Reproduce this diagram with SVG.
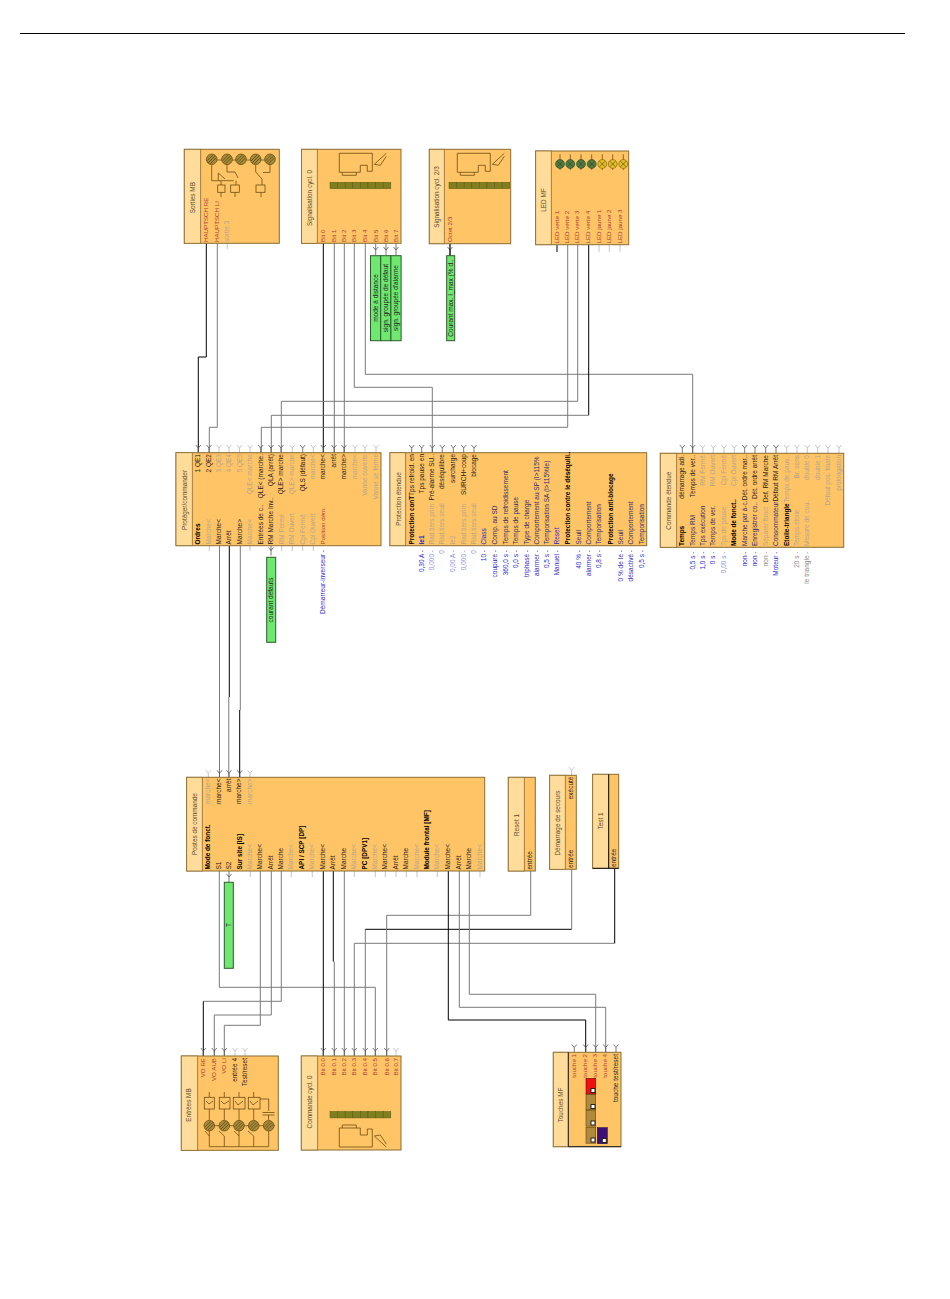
<svg xmlns="http://www.w3.org/2000/svg" width="950" height="1299" viewBox="0 0 950 1299">
<style>
text{font-family:"Liberation Sans",Arial,sans-serif;font-size:6.5px;fill:#4a3a20}
.e{text-anchor:end}.m{text-anchor:middle}
.l{fill:#b3a68e}.d{fill:#222}.h{fill:#000;font-weight:bold;font-size:6.4px}.r{fill:#a83a3a;font-size:6.2px}.b{fill:#2a2ad0}.n{fill:#2c2c68}.bl{fill:#8d8de0}.gr{fill:#888}
.ti{font-size:6.4px;fill:#5a4a2a}
.body{fill:#ffc466;stroke:#8a6c32;stroke-width:1}
.head{fill:#ffdc9a;stroke:#8a6c32;stroke-width:.8}
.note{fill:#6fe86f;stroke:#2c5a2c;stroke-width:1}
.c{fill:none;stroke-width:1}
.k{stroke:#000}.g{stroke:#7a7a7a}
.sl{stroke:#b8b8b8;fill:none;stroke-width:.8}.sd{stroke:#555;fill:none;stroke-width:.8}
.i{fill:none;stroke:#6b4f10;stroke-width:.8}
.s{fill:#a58a3c;stroke:#6b4f10;stroke-width:.8}
.sq{fill:#7f7f20;stroke:#5a5a10;stroke-width:.5}
.lg{fill:#4f7d3f;stroke:#33552a;stroke-width:.8}.ly{fill:#e8c020;stroke:#8a6c10;stroke-width:.8}
</style>
<defs>
<path id="y" d="M-2.5,-3L0,0L2.5,-3M0,0V5"/>
<g id="scr"><circle r="5.3" class="s"/><path d="M-3.5,3.5L3.5,-3.5M-1.5,4.5L4.5,-1.5M-4.5,1.5L1.5,-4.5" stroke="#5a4410" stroke-width=".7" fill="none"/></g>
<g id="row"><rect x="0" width="7.6" height="6.4" class="sq"/><rect x="7.6" width="7.6" height="6.4" class="sq"/><rect x="15.2" width="7.6" height="6.4" class="sq"/><rect x="22.8" width="7.6" height="6.4" class="sq"/><rect x="30.4" width="7.6" height="6.4" class="sq"/><rect x="38" width="7.6" height="6.4" class="sq"/><rect x="45.6" width="7.6" height="6.4" class="sq"/><rect x="53.2" width="7.6" height="6.4" class="sq"/></g>
<path id="plc" class="i" d="M0,0H33V18H28V12H21V19H0ZM3,19V22H17V19M35,11L47,0M35,11L41,12L47,3"/>
<g id="led"><circle r="4.4"/><path d="M-2.8,-2.8L2.8,2.8M-2.8,2.8L2.8,-2.8" stroke="#333" stroke-width=".6" fill="none"/></g>
<g id="tb"><rect width="9.7" height="15.7" fill="#b08a3c" stroke="#5a4410" stroke-width=".6"/><rect x="5" y="10.5" width="4" height="4" fill="#fff" stroke="#222"/></g>
</defs>
<rect width="950" height="1299" fill="#fff"/>
<path d="M20,33.5H905" stroke="#000" fill="none"/>

<g id="connectors">
<path class="c k" d="M206.3,243V357H198.3V453"/>
<path class="c g" d="M217.3,243V427.3H209.3V453"/>
<path class="c k" d="M323.3,243V453"/>
<path class="c g" d="M334.3,243V453"/>
<path class="c g" d="M344.3,243V453"/>
<path class="c g" d="M354.3,243V387.3H432.3V453"/>
<path class="c g" d="M365.3,243V374.3H692.7V453"/>
<path class="c g" d="M567.7,245V427.3H261.3V453"/>
<path class="c g" d="M577.7,245V401.3H281.3V453"/>
<path class="c k" d="M588.7,245V415.3"/><path class="c g" d="M588.7,415.3H271.3V453"/>
<path class="c k" d="M557,245V252"/>
<path class="c g" d="M219.5,546V777.3"/>
<path class="c k" d="M229.3,546V697"/><path class="c g" d="M228.8,697V777.3"/>
<path class="c g" d="M240.3,546V710"/><path class="c k" d="M239.7,710V777.3"/>
<path class="c g" d="M219.3,871V987.3H375.3V1056"/>
<path class="c g" d="M260.3,871V1025.3H224.3V1056"/>
<path class="c g" d="M271.3,871V1015H214.3V1056"/>
<path class="c g" d="M281.3,871V1001.3H203.3"/><path class="c k" d="M203.3,1001.3V1056"/>
<path class="c k" d="M323.3,871V1056"/>
<path class="c k" d="M333.3,871V961.7"/><path class="c g" d="M334.3,961.7V1056"/>
<path class="c g" d="M344.3,871V1056"/>
<path class="c g" d="M354.3,1056V943.3H614.7"/><path class="c k" d="M614.7,943.3V868"/>
<path class="c g" d="M365.3,1056V929.3"/><path class="c k" d="M365.3,929.3H571.7"/><path class="c g" d="M571.7,929.3V869"/>
<path class="c g" d="M386.7,1056V915.3H530.7V871"/>
<path class="c k" d="M448.3,871V1020H585.7V1052"/>
<path class="c g" d="M459.3,871V1007.3H605.7V1052"/>
<path class="c g" d="M469.3,871V994.3H595.7V1052"/>
<path class="sl" d="M227.3,243V249M599,245V252M609.3,245V252M620,245V252M209.3,546V551M250,546V551M281.7,546V551M292.3,546V551M302.7,546V551M313.3,546V551M250.3,871V877M291.3,871V877M312.3,871V877M354.3,871V877M375.3,871V877M385.3,871V877M396,871V877M406.3,871V877M417,871V877M437.3,871V877M480,871V877"/>
</g>
<g id="ports">
<g class="sd"><use href="#y" x="198.3" y="448"/><use href="#y" x="209" y="448"/><use href="#y" x="260.7" y="448"/><use href="#y" x="271" y="448"/><use href="#y" x="281" y="448"/><use href="#y" x="323.3" y="448"/><use href="#y" x="334" y="448"/><use href="#y" x="344" y="448"/><use href="#y" x="302.7" y="448"/><use href="#y" x="411.7" y="448"/><use href="#y" x="421.7" y="448"/><use href="#y" x="432.3" y="448"/><use href="#y" x="442.3" y="448"/><use href="#y" x="453.3" y="448"/><use href="#y" x="463.7" y="448"/><use href="#y" x="474" y="448"/><use href="#y" x="682.3" y="448"/><use href="#y" x="692.7" y="448"/><use href="#y" x="744.7" y="448"/><use href="#y" x="755" y="448"/><use href="#y" x="765.7" y="448"/><use href="#y" x="776" y="448"/><use href="#y" x="219.5" y="773.3"/><use href="#y" x="229" y="773.3"/><use href="#y" x="239.7" y="773.3"/><use href="#y" x="203.3" y="1051"/><use href="#y" x="214.3" y="1051"/><use href="#y" x="224.3" y="1051"/><use href="#y" x="323.3" y="1051"/><use href="#y" x="334.3" y="1051"/><use href="#y" x="344.3" y="1051"/><use href="#y" x="354.3" y="1051"/><use href="#y" x="365.3" y="1051"/><use href="#y" x="375.3" y="1051"/><use href="#y" x="386.7" y="1051"/><use href="#y" x="585.7" y="1047.5"/><use href="#y" x="595.7" y="1047.5"/><use href="#y" x="605.7" y="1047.5"/><use href="#y" x="574.3" y="1047.5"/><use href="#y" x="616" y="1047.5"/><use href="#y" x="271" y="550.5"/><use href="#y" x="229" y="877"/><use href="#y" x="375.7" y="250"/><use href="#y" x="386" y="250"/><use href="#y" x="396" y="250"/><use href="#y" x="450" y="250"/></g>
<path class="sd" d="M271,546V551M229,871V877M375.7,243V250M386,243V250M396,243V250"/>
<path stroke="#222" stroke-width="1.4" fill="none" d="M450,243.7V256"/>
<g class="sl"><use href="#y" x="219" y="448"/><use href="#y" x="229" y="448"/><use href="#y" x="239.5" y="448"/><use href="#y" x="250" y="448"/><use href="#y" x="292.3" y="448"/><use href="#y" x="313.3" y="448"/><use href="#y" x="355" y="448"/><use href="#y" x="365" y="448"/><use href="#y" x="376" y="448"/><use href="#y" x="702.7" y="448"/><use href="#y" x="713.3" y="448"/><use href="#y" x="724" y="448"/><use href="#y" x="734.3" y="448"/><use href="#y" x="786.7" y="448"/><use href="#y" x="797" y="448"/><use href="#y" x="807.3" y="448"/><use href="#y" x="817.7" y="448"/><use href="#y" x="828" y="448"/><use href="#y" x="839" y="448"/><use href="#y" x="208.3" y="773.3"/><use href="#y" x="250" y="773.3"/><use href="#y" x="571.5" y="770.3"/><use href="#y" x="235" y="1051"/><use href="#y" x="245" y="1051"/><use href="#y" x="396" y="1051"/></g>
</g>

<g id="sorties-mb">
<rect class="body" x="184.3" y="149.3" width="95" height="94"/><rect class="head" x="184.3" y="149.3" width="16.4" height="94"/>
<path class="i" d="M211.7,165V180.7H233.7M218.3,173V180.7M218.3,173L225,179M227,165V172H235L238,178M236,180.7V185M221,180.7V185M221,192.3V197M235,192.3V197M255.7,165V172L262,179V185M261,192.3V197M270,165V172.5H263M217,160H270"/>
<rect class="i" x="217.7" y="185" width="7.3" height="7.3"/><rect class="i" x="230.7" y="185" width="8.6" height="7.3"/><rect class="i" x="256" y="185" width="9" height="7.3"/>
<use href="#scr" x="211.7" y="159.3"/><use href="#scr" x="227" y="159.3"/><use href="#scr" x="241" y="159.3"/><use href="#scr" x="255.7" y="159.3"/><use href="#scr" x="270" y="159.3"/>
<g transform="rotate(-90)"><text class="ti m" x="-197.7" y="194.5">Sorties MB</text>
<text class="r" x="-242" y="208.3">HAUPTSCH RE</text><text class="r" x="-242" y="219.3">HAUPTSCH LI</text><text class="l" x="-242" y="229.3">sortie 3</text></g>
</g>

<g id="signalisation-cycl-0">
<rect class="body" x="301.5" y="149.3" width="99.5" height="94"/><rect class="head" x="301.5" y="149.3" width="15.8" height="94"/>
<use href="#plc" x="339.3" y="153.3"/><use href="#row" x="330" y="182.3"/>
<g transform="rotate(-90)"><text class="ti m" x="-198" y="311.5">Signalisation cycl. 0</text>
<text class="r" x="-242" y="325.3">Bit 0</text><text class="r" x="-242" y="336.3">Bit 1</text><text class="r" x="-242" y="346.3">Bit 2</text><text class="r" x="-242" y="356.3">Bit 3</text><text class="r" x="-242" y="367.3">Bit 4</text><text class="r" x="-242" y="377.7">Bit 5</text><text class="r" x="-242" y="388">Bit 6</text><text class="r" x="-242" y="398">Bit 7</text></g>
</g>
<g id="note-mode"><rect class="note" x="370.5" y="255.7" width="10.2" height="85"/><text class="d m" transform="translate(378,298) rotate(-90)">mode à distance</text></g>
<g id="note-defaut"><rect class="note" x="380.7" y="255.7" width="10.2" height="85"/><text class="d m" transform="translate(388,298) rotate(-90)">sign. groupée de défaut</text></g>
<g id="note-alarme"><rect class="note" x="390.9" y="255.7" width="10.2" height="85"/><text class="d m" transform="translate(398.2,298) rotate(-90)">sign. groupée d'alarme</text></g>

<g id="signalisation-cycl-23">
<rect class="body" x="429.3" y="149.3" width="81.4" height="94.4"/><rect class="head" x="429.3" y="149.3" width="15" height="94.4"/>
<use href="#plc" x="457.3" y="153.3"/><use href="#row" x="449" y="182.3"/>
<g transform="rotate(-90)"><text class="ti m" x="-197" y="439">Signalisation cycl. 2/3</text><text class="r" x="-242" y="451.5">Octet 2/3</text></g>
</g>
<g id="note-courant"><rect class="note" x="446.7" y="255.7" width="8" height="85"/><text class="d m" transform="translate(452.6,298) rotate(-90)">Courant max. I_max (% d..</text></g>

<g id="led-mf">
<rect class="body" x="535.7" y="151" width="93" height="93.7"/><rect class="head" x="535.7" y="151" width="15.6" height="93.7"/>
<path class="i" d="M560,154.3V170M570.3,154.3V170M581,154.3V170M591.7,154.3V170M602.3,154.3V170M612.7,154.3V170M623.3,154.3V170"/>
<g class="lg"><use href="#led" x="560" y="164"/><use href="#led" x="570.3" y="164"/><use href="#led" x="581" y="164"/><use href="#led" x="591.7" y="164"/></g>
<g class="ly"><use href="#led" x="602.3" y="164"/><use href="#led" x="612.7" y="164"/><use href="#led" x="623.3" y="164"/></g>
<g transform="rotate(-90)"><text class="ti m" x="-200" y="545.5">LED MF</text>
<text class="r" x="-243.5" y="559">LED verte 1</text><text class="r" x="-243.5" y="569">LED verte 2</text><text class="r" x="-243.5" y="579.3">LED verte 3</text><text class="r" x="-243.5" y="590">LED verte 4</text><text class="r" x="-243.5" y="601">LED jaune 1</text><text class="r" x="-243.5" y="611.3">LED jaune 2</text><text class="r" x="-243.5" y="622">LED jaune 3</text></g>
</g>

<g id="proteger-commander">
<rect class="body" x="176" y="452.7" width="205" height="93"/><rect class="head" x="176" y="452.7" width="16.3" height="93"/>
<g transform="rotate(-90)"><text class="ti m" x="-500" y="186.5">Protéger/commander</text>
<text class="h" x="-544.5" y="200.3">Ordres</text><text class="l" x="-544.5" y="211">Marche&lt;</text><text class="d" x="-544.5" y="221.3">Marche&lt;</text><text class="d" x="-544.5" y="231.3">Arrêt</text><text class="d" x="-544.5" y="242">Marche&gt;</text><text class="l" x="-544.5" y="252">Marche&lt;</text><text class="d" x="-544.5" y="262.7">Entrées de c..</text><text class="d" x="-544.5" y="273">RM Marche Inv..</text><text class="l" x="-544.5" y="283.5">RM Fermé</text><text class="l" x="-544.5" y="294.3">RM Ouvert</text><text class="l" x="-544.5" y="304.7">Cpl Fermé</text><text class="l" x="-544.5" y="315.3">Cpl Ouvert</text><text class="r" x="-544.5" y="325.3">Position dém.</text>
<text class="d e" x="-454" y="200.3">1 QE1</text><text class="d e" x="-454" y="211">2 QE2</text><text class="l e" x="-454" y="221.3">3 QE3</text><text class="l e" x="-454" y="231.3">4 QE4</text><text class="l e" x="-454" y="242">5 QE5</text><text class="l e" x="-454" y="252">QLE&lt; marche</text><text class="d e" x="-454" y="262.7">QLE&lt; (marche.</text><text class="d e" x="-454" y="273">QLA (arrêt)</text><text class="d e" x="-454" y="283">QLE&gt; marche</text><text class="l e" x="-454" y="294.3">QLE&gt; marche</text><text class="d e" x="-454" y="304.7">QLS (défaut)</text><text class="l e" x="-454" y="315.3">marche&lt;</text><text class="d e" x="-454" y="325.3">marche&lt;</text><text class="d e" x="-454" y="335.5">arrêt</text><text class="d e" x="-454" y="345.5">marche&gt;</text><text class="l e" x="-454" y="357">marche&lt;</text><text class="l e" x="-454" y="367">Vanne ouverte</text><text class="l e" x="-454" y="378">Vanne se ferme</text>
<text class="b e" x="-550" y="325.3">Démarreur-inverseur -</text></g>
</g>
<g id="note-courant-defauts"><rect class="note" x="266.7" y="557.3" width="9" height="85"/><text class="d m" transform="translate(273.2,600) rotate(-90)">courant défauts</text></g>

<g id="protection-etendue">
<rect class="body" x="390" y="452.7" width="256.7" height="93"/><rect class="head" x="390" y="452.7" width="15.7" height="93"/>
<g transform="rotate(-90)"><text class="ti m" x="-499" y="400.5">Protection étendue</text>
<text class="h" x="-544.5" y="413.7">Protection conT</text><text class="b" x="-544.5" y="423.7" style="font-weight:bold">Ie1</text><text class="l" x="-544.5" y="433.7">Rad.tiers prim</text><text class="l" x="-544.5" y="444.3">Rad.tiers seuil</text><text class="l" x="-544.5" y="455.3">Ie2</text><text class="l" x="-544.5" y="466">Rad.tiers prim</text><text class="l" x="-544.5" y="476">Rad.tiers seuil</text>
<text class="b" x="-544.5" y="486">Class</text><text class="n" x="-544.5" y="497">Comp. au SD</text><text class="n" x="-544.5" y="507.7">Temps de refroidissement</text><text class="n" x="-544.5" y="518">Temps de pause</text><text class="n" x="-544.5" y="528.7">Type de charge</text><text class="n" x="-544.5" y="538.7">Comportement au SP (I&gt;115%</text><text class="n" x="-544.5" y="549.3">Temporisation SA (I&gt;115%Ie)</text><text class="b" x="-544.5" y="559.3">Reset</text><text class="h" x="-544.5" y="570.3">Protection contre le déséquili..</text><text class="n" x="-544.5" y="581">Seuil</text><text class="n" x="-544.5" y="591">Comportement</text><text class="n" x="-544.5" y="601.3">Temporisation</text><text class="h" x="-544.5" y="612.7">Protection anti-blocage</text><text class="n" x="-544.5" y="622.7">Seuil</text><text class="n" x="-544.5" y="633">Comportement</text><text class="n" x="-544.5" y="643.7">Temporisation</text>
<text class="d e" x="-454" y="413.7">Tps refroid. en</text><text class="d e" x="-454" y="423.7">Tps pause en</text><text class="d e" x="-454" y="434">Pré-alarme SU..</text><text class="d e" x="-454" y="444.3">déséquilibre</text><text class="d e" x="-454" y="455.3">surcharge</text><text class="d e" x="-454" y="465.7">SURCH+coup</text><text class="d e" x="-454" y="476">blocage</text>
<text class="b e" x="-550" y="423.7">0,30 A -</text><text class="bl e" x="-550" y="433.7">0,000 -</text><text class="bl e" x="-550" y="444.3">0</text><text class="bl e" x="-550" y="455.3">0,00 A -</text><text class="bl e" x="-550" y="466">0,000 -</text><text class="bl e" x="-550" y="476">0</text><text class="b e" x="-550" y="486">10 -</text><text class="b e" x="-550" y="497">coupure -</text><text class="b e" x="-550" y="507.7">360,0 s -</text><text class="b e" x="-550" y="518">0,0 s -</text><text class="b e" x="-550" y="528.7">triphasé -</text><text class="b e" x="-550" y="538.7">alarmer -</text><text class="b e" x="-550" y="549.3">0,5 s -</text><text class="b e" x="-550" y="559.3">Manuel -</text><text class="b e" x="-550" y="581">40 % -</text><text class="b e" x="-550" y="591">alarmer -</text><text class="b e" x="-550" y="601.3">0,8 s -</text><text class="b e" x="-550" y="622.7">0 % de Ie -</text><text class="b e" x="-550" y="633">désactivé -</text><text class="b e" x="-550" y="643.7">0,5 s -</text></g>
</g>

<g id="commande-etendue">
<rect class="body" x="660.3" y="453.3" width="183.4" height="94"/><rect class="head" x="660.3" y="453.3" width="16.4" height="94"/>
<g transform="rotate(-90)"><text class="ti m" x="-500.7" y="671">Commande étendue</text>
<text class="h" x="-546" y="684.3">Temps</text><text class="n" x="-546" y="694.5">Temps RM</text><text class="n" x="-546" y="704.7">Tps exécution</text><text class="n" x="-546" y="715.3">Temps de ver.</text><text class="l" x="-546" y="726">Tps de pause</text><text class="h" x="-546" y="736.3">Mode de fonct..</text><text class="n" x="-546" y="746.7">Marche par à-c..</text><text class="n" x="-546" y="757">Enregistrer co..</text><text class="l" x="-546" y="767.7">Séparer fonct</text><text class="n" x="-546" y="778">Consommateur</text><text class="h" x="-546" y="788.7">Etoile-triangle</text><text class="l" x="-546" y="799">Temps étoile</text><text class="l" x="-546" y="809.3">Mesure de cou..</text>
<text class="d e" x="-455" y="684.3">démarrage adi.</text><text class="d e" x="-455" y="694.7">Temps de ver..</text><text class="l e" x="-455" y="704.7">RM Fermé</text><text class="l e" x="-455" y="715.3">RM Ouvert</text><text class="l e" x="-455" y="726">Cpl Fermé</text><text class="l e" x="-455" y="736.3">Cpl Ouvert</text><text class="d e" x="-455" y="746.7">Dét. ordre mar..</text><text class="d e" x="-455" y="757">Dét. ordre arrêt</text><text class="d e" x="-455" y="767.7">Def. RM Marche</text><text class="d e" x="-455" y="778">Défaut RM Arrêt</text><text class="l e" x="-455" y="788.7">Temps de paus..</text><text class="l e" x="-455" y="799">Br. sens</text><text class="l e" x="-455" y="809.3">double 0</text><text class="l e" x="-455" y="819.7">double 1</text><text class="l e" x="-455" y="830">Défaut pos. finale</text><text class="l e" x="-455" y="841">prolongation</text>
<text class="b e" x="-551.5" y="694.5">0,5 s -</text><text class="b e" x="-551.5" y="704.7">1,0 s -</text><text class="b e" x="-551.5" y="715.3">0 s -</text><text class="bl e" x="-551.5" y="726">0,00 s -</text><text class="b e" x="-551.5" y="746.7">non -</text><text class="b e" x="-551.5" y="757">non -</text><text class="gr e" x="-551.5" y="767.7">non -</text><text class="b e" x="-551.5" y="778">Moteur -</text><text class="gr e" x="-551.5" y="799">20 s -</text><text class="gr e" x="-551.5" y="809.3">le triangle -</text></g>
</g>

<g id="poste-de-commande">
<rect class="body" x="186.7" y="777.3" width="298" height="93.7"/><rect class="head" x="186.7" y="777.3" width="15.6" height="93.7"/>
<g transform="rotate(-90)"><text class="ti m" x="-824" y="197">Postes de commande</text>
<text class="h" x="-869.5" y="210.3">Mode de fonct.</text><text class="d" x="-869.5" y="221.3">S1</text><text class="d" x="-869.5" y="231">S2</text><text class="h" x="-869.5" y="242">Sur site [IS]</text><text class="l" x="-869.5" y="252.3">Marche&lt;</text><text class="d" x="-869.5" y="262.3">Marche&lt;</text><text class="d" x="-869.5" y="273.3">Arrêt</text><text class="d" x="-869.5" y="283.3">Marche</text><text class="l" x="-869.5" y="293.3">Marche&lt;</text><text class="h" x="-869.5" y="304.3">API / SCP [DP]</text><text class="l" x="-869.5" y="314.3">Marche&lt;</text><text class="d" x="-869.5" y="325.3">Marche&lt;</text><text class="d" x="-869.5" y="335.3">Arrêt</text><text class="d" x="-869.5" y="346.3">Marche</text><text class="l" x="-869.5" y="356.3">Marche&lt;</text><text class="h" x="-869.5" y="367.3">PC [DPV1]</text><text class="l" x="-869.5" y="377.3">Marche&lt;</text><text class="d" x="-869.5" y="387.3">Marche&lt;</text><text class="d" x="-869.5" y="398">Arrêt</text><text class="d" x="-869.5" y="408.3">Marche</text><text class="l" x="-869.5" y="419">Marche&lt;</text><text class="h" x="-869.5" y="429">Module frontal [MF]</text><text class="l" x="-869.5" y="439.3">Marche&lt;</text><text class="d" x="-869.5" y="450">Marche&lt;</text><text class="d" x="-869.5" y="461">Arrêt</text><text class="d" x="-869.5" y="471">Marche</text><text class="l" x="-869.5" y="482">Marche&lt;</text>
<text class="l e" x="-778.5" y="210.3">marche&lt;</text><text class="d e" x="-778.5" y="221">marche&lt;</text><text class="d e" x="-778.5" y="231">arrêt</text><text class="d e" x="-778.5" y="241.3">marche&gt;</text><text class="l e" x="-778.5" y="252">marche&gt;</text></g>
</g>
<g id="note-t"><rect class="note" x="224.3" y="882.3" width="9" height="86"/><text class="d m" transform="translate(231,925) rotate(-90)">T</text></g>

<g id="reset-1">
<rect class="body" x="508.3" y="777.3" width="27" height="93.7"/><rect class="head" x="508.3" y="777.3" width="16" height="93.7"/>
<g transform="rotate(-90)"><text class="ti m" x="-825" y="518.5">Reset 1</text><text class="d" x="-869.5" y="532.3">entrée</text></g>
</g>
<g id="demarrage-de-secours">
<rect class="body" x="549.7" y="775.3" width="26.6" height="94"/><rect class="head" x="549.7" y="775.3" width="15.6" height="94"/>
<g transform="rotate(-90)"><text class="ti m" x="-823" y="560">Démarrage de secours</text><text class="d" x="-868" y="573.3">entrée</text><text class="d e" x="-776.5" y="573.3">exécuté</text></g>
</g>
<g id="test-1">
<rect class="body" x="592.7" y="774.3" width="26" height="94"/><rect class="head" x="592.7" y="774.3" width="16" height="94"/>
<path d="M608.7,774.3V868.3M592.7,868.3H618.7" stroke="#111" fill="none"/>
<g transform="rotate(-90)"><text class="ti m" x="-821" y="603">Test 1</text><text class="d" x="-867" y="616">entrée</text></g>
</g>

<g id="entrees-mb">
<rect class="body" x="181.3" y="1056" width="97" height="94.3"/><rect class="head" x="181.3" y="1056" width="16.4" height="94.3"/>
<path class="i" d="M209.3,1092V1097M224.3,1092V1097M239,1092V1097M253.7,1092V1097M209.3,1109V1120M224.3,1109V1120M239,1109V1120M253.7,1109V1120M260,1099H268.7V1111M262.5,1112.5H274.5M262.5,1115H274.5M268.5,1115V1120M209.3,1131V1136L205,1131M224.3,1136L219,1131M239,1136L234,1131M253.7,1136L248,1131M209.3,1136V1146.7M239,1131V1146.7M268.7,1131V1146.7M209.3,1146.7H268.7M224.3,1136V1146.7M253.7,1136V1146.7M205,1125.7H275"/>
<path class="i" d="M206,1101L209,1104L213,1101M221,1101L224,1104L229,1101M235,1101L238,1105L243,1101M250,1101L253,1105L258,1101"/>
<rect class="i" x="204.3" y="1097.3" width="10" height="11.7"/><rect class="i" x="219.3" y="1097.3" width="10.7" height="11.7"/><rect class="i" x="233.3" y="1097.3" width="11.7" height="11.7"/><rect class="i" x="248.3" y="1097.3" width="11.7" height="11.7"/>
<use href="#scr" x="209.3" y="1125.7"/><use href="#scr" x="224.3" y="1125.7"/><use href="#scr" x="239" y="1125.7"/><use href="#scr" x="253.7" y="1125.7"/><use href="#scr" x="268.7" y="1125.7"/>
<g transform="rotate(-90)"><text class="ti m" x="-1105" y="191">Entrées MB</text>
<text class="r e" x="-1058" y="205.3">VO RE</text><text class="r e" x="-1058" y="216.3">VO AUB</text><text class="r e" x="-1058" y="226.3">VO LI</text><text class="d e" x="-1058" y="237">entrée 4</text><text class="d e" x="-1058" y="247">Test/reset</text></g>
</g>

<g id="commande-cycl-0">
<rect class="body" x="301.3" y="1056" width="99.7" height="94"/><rect class="head" x="301.3" y="1056" width="16.4" height="94"/>
<use href="#row" x="330" y="1111.5"/>
<use href="#plc" transform="translate(339.3,1147) scale(1,-1)"/>
<g transform="rotate(-90)"><text class="ti m" x="-1102" y="311.5">Commande cycl. 0</text>
<text class="r e" x="-1058" y="325.3">Bit 0.0</text><text class="r e" x="-1058" y="336.3">Bit 0.1</text><text class="r e" x="-1058" y="346.3">Bit 0.2</text><text class="r e" x="-1058" y="356.3">Bit 0.3</text><text class="r e" x="-1058" y="367.3">Bit 0.4</text><text class="r e" x="-1058" y="377.3">Bit 0.5</text><text class="r e" x="-1058" y="388.7">Bit 0.6</text><text class="r e" x="-1058" y="398">Bit 0.7</text></g>
</g>

<g id="touches-mf">
<rect class="body" x="553.3" y="1052.3" width="67.7" height="94.4"/><rect class="head" x="553.3" y="1052.3" width="15" height="94.4"/>
<path d="M568.3,1052.3V1146.7H621" stroke="#222" fill="none"/>
<use href="#tb" x="586" y="1094"/><use href="#tb" x="586" y="1110.5"/><use href="#tb" x="586" y="1127.5"/>
<rect x="586" y="1078.3" width="9.7" height="15.7" fill="#f01010" stroke="#5a1010" stroke-width=".6"/><rect x="591" y="1088.5" width="4" height="4" fill="#fff" stroke="#222"/>
<rect x="597.3" y="1127.7" width="10" height="16" fill="#3a1078" stroke="#2a0a50" stroke-width=".6"/><rect x="602.3" y="1138.5" width="4" height="4" fill="#fff" stroke="#222"/>
<g transform="rotate(-90)"><text class="ti m" x="-1105" y="563">Touches MF</text>
<text class="r e" x="-1054" y="576.3">touche 1</text><text class="r e" x="-1054" y="587">touche 2</text><text class="r e" x="-1054" y="597">touche 3</text><text class="r e" x="-1054" y="607">touche 4</text><text class="d e" x="-1054" y="618">touche test/reset</text></g>
</g>
</svg>
